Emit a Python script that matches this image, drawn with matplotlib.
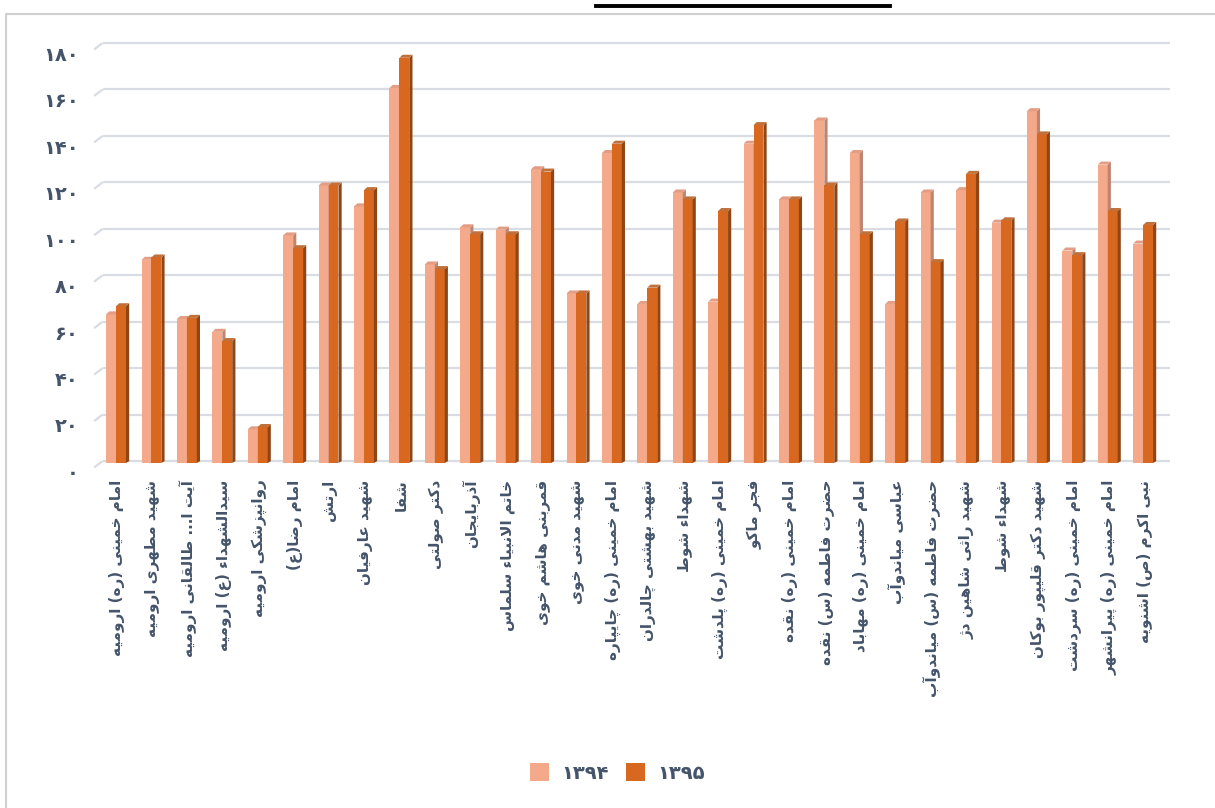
import matplotlib.pyplot as plt
from matplotlib.patches import Polygon, Rectangle, Patch
from matplotlib.lines import Line2D
import matplotlib.transforms as mtransforms
import numpy as np

# =============================================================================
# Data
# =============================================================================

hospitals = [
    'امام خمینی (ره) ارومیه', 'شهید مطهری ارومیه', 'آیت ا... طالقانی ارومیه',
    'سیدالشهداء (ع) ارومیه', 'روانپزشکی ارومیه', 'امام رضا(ع)', 'ارتش',
    'شهید عارفیان', 'شفا', 'دکتر صولتی', 'آذربایجان', 'خاتم الانبیاء سلماس',
    'قمربنی هاشم خوی', 'شهید مدنی خوی', 'امام خمینی (ره) چایپاره',
    'شهید بهشتی چالدران', 'شهداء شوط', 'امام خمینی (ره) پلدشت', 'فجر ماکو',
    'امام خمینی (ره) نقده', 'حضرت فاطمه (س) نقده', 'امام خمینی (ره) مهاباد',
    'عباسی میاندوآب', 'حضرت فاطمه (س) میاندوآب', 'شهید راثی شاهین دژ',
    'شهداء شوط', 'شهید دکتر قلیپور بوکان', 'امام خمینی (ره) سردشت',
    'امام خمینی (ره) پیرانشهر', 'نبی اکرم (ص) اشنویه',
]

values_1394 = [64, 87.5, 62, 56.5, 14.5, 98, 119.5, 110.5, 161.5, 85.5,
               101.5, 100.5, 126.5, 73, 133.5, 68.5, 116.5, 69.5, 137.5, 113.5,
               147.5, 133.5, 68.5, 116.5, 117.5, 103.5, 151.5, 91.5, 128.5, 94.5]
values_1395 = [67.5, 88.5, 62.5, 52.5, 15.5, 92.5, 119.5, 117.5, 174.5, 83.5,
               98.5, 98.5, 125.5, 73, 137.5, 75.5, 113.5, 108.5, 145.5, 113.5,
               119.5, 98.5, 104, 86.5, 124.5, 104.5, 141.5, 89.5, 108.5, 102.5]

series_names = ['۱۳۹۴', '۱۳۹۵']
y_ticks = [0, 20, 40, 60, 80, 100, 120, 140, 160, 180]
fa_digits = '۰۱۲۳۴۵۶۷۸۹'

# =============================================================================
# Simple Persian shaping (matplotlib has no bidi / joining support)
# =============================================================================

# letter: (isolated, final, initial, medial)
FORMS = {
    'ء': ('\uFE80', None, None, None),
    'آ': ('\uFE81', '\uFE82', None, None),
    'أ': ('\uFE83', '\uFE84', None, None),
    'ؤ': ('\uFE85', '\uFE86', None, None),
    'إ': ('\uFE87', '\uFE88', None, None),
    'ئ': ('\uFE89', '\uFE8A', '\uFE8B', '\uFE8C'),
    'ا': ('\uFE8D', '\uFE8E', None, None),
    'ب': ('\uFE8F', '\uFE90', '\uFE91', '\uFE92'),
    'ة': ('\uFE93', '\uFE94', None, None),
    'ت': ('\uFE95', '\uFE96', '\uFE97', '\uFE98'),
    'ث': ('\uFE99', '\uFE9A', '\uFE9B', '\uFE9C'),
    'ج': ('\uFE9D', '\uFE9E', '\uFE9F', '\uFEA0'),
    'ح': ('\uFEA1', '\uFEA2', '\uFEA3', '\uFEA4'),
    'خ': ('\uFEA5', '\uFEA6', '\uFEA7', '\uFEA8'),
    'د': ('\uFEA9', '\uFEAA', None, None),
    'ذ': ('\uFEAB', '\uFEAC', None, None),
    'ر': ('\uFEAD', '\uFEAE', None, None),
    'ز': ('\uFEAF', '\uFEB0', None, None),
    'س': ('\uFEB1', '\uFEB2', '\uFEB3', '\uFEB4'),
    'ش': ('\uFEB5', '\uFEB6', '\uFEB7', '\uFEB8'),
    'ص': ('\uFEB9', '\uFEBA', '\uFEBB', '\uFEBC'),
    'ض': ('\uFEBD', '\uFEBE', '\uFEBF', '\uFEC0'),
    'ط': ('\uFEC1', '\uFEC2', '\uFEC3', '\uFEC4'),
    'ظ': ('\uFEC5', '\uFEC6', '\uFEC7', '\uFEC8'),
    'ع': ('\uFEC9', '\uFECA', '\uFECB', '\uFECC'),
    'غ': ('\uFECD', '\uFECE', '\uFECF', '\uFED0'),
    'ف': ('\uFED1', '\uFED2', '\uFED3', '\uFED4'),
    'ق': ('\uFED5', '\uFED6', '\uFED7', '\uFED8'),
    'ل': ('\uFEDD', '\uFEDE', '\uFEDF', '\uFEE0'),
    'م': ('\uFEE1', '\uFEE2', '\uFEE3', '\uFEE4'),
    'ن': ('\uFEE5', '\uFEE6', '\uFEE7', '\uFEE8'),
    'ه': ('\uFEE9', '\uFEEA', '\uFEEB', '\uFEEC'),
    'و': ('\uFEED', '\uFEEE', None, None),
    'پ': ('\uFB56', '\uFB57', '\uFB58', '\uFB59'),
    'چ': ('\uFB7A', '\uFB7B', '\uFB7C', '\uFB7D'),
    'ژ': ('\uFB8A', '\uFB8B', None, None),
    'ک': ('\uFB8E', '\uFB8F', '\uFB90', '\uFB91'),
    'گ': ('\uFB92', '\uFB93', '\uFB94', '\uFB95'),
    'ی': ('\uFBFC', '\uFBFD', '\uFBFE', '\uFBFF'),
}
LAM_ALEF = {'ا': ('\uFEFB', '\uFEFC'), 'آ': ('\uFEF5', '\uFEF6')}


def joins_forward(ch):
    return ch in FORMS and FORMS[ch][2] is not None


def joins_back(ch):
    return ch in FORMS and FORMS[ch][1] is not None


def shape(text):
    out = []
    i = 0
    n = len(text)
    while i < n:
        ch = text[i]
        if ch not in FORMS:
            out.append(ch)
            i += 1
            continue
        prev_ok = i > 0 and joins_forward(text[i - 1]) and joins_back(ch)
        if ch == 'ل' and i + 1 < n and text[i + 1] in LAM_ALEF:
            out.append(LAM_ALEF[text[i + 1]][1 if prev_ok else 0])
            i += 2
            continue
        next_ok = i + 1 < n and joins_forward(ch) and joins_back(text[i + 1])
        iso, fin, ini, med = FORMS[ch]
        if prev_ok and next_ok:
            out.append(med)
        elif prev_ok:
            out.append(fin)
        elif next_ok:
            out.append(ini)
        else:
            out.append(iso)
        i += 1
    # visual order: reverse, mirror brackets
    vis = ''.join(out)[::-1]
    return vis.translate(str.maketrans('()', ')('))


def fa_num(v):
    return ''.join(fa_digits[int(d)] for d in str(v))

# =============================================================================
# Plot
# =============================================================================

text_color = '#44546A'
face_colors = ['#F4A98A', '#D8681F']
side_colors = ['#BE8470', '#8F4616']
top_colors = ['#E39D84', '#C0703A']
grid_color = '#D9DCE3'

fig = plt.figure(figsize=(12.15, 8.08), dpi=100)
ax = fig.add_axes([98 / 1215, (808 - 463) / 808, (1164 - 98) / 1215, 418 / 808])

x = np.arange(len(hospitals))
width = 0.28
offsets = [-0.18, 0.10]
dx, dy = 0.09, 1.3

for k, vals in enumerate([values_1394, values_1395]):
    xs = x + offsets[k]
    ax.bar(xs, vals, width=width, color=face_colors[k], edgecolor='none', zorder=3 + k)
    for xc, v in zip(xs, vals):
        left, right = xc - width / 2, xc + width / 2
        side = Polygon([(right, 0), (right + dx, dy * 0.6), (right + dx, v + dy), (right, v)],
                       closed=True, facecolor=side_colors[k], edgecolor='none', zorder=3 + k)
        top = Polygon([(left, v), (left + dx, v + dy), (right + dx, v + dy), (right, v)],
                      closed=True, facecolor=top_colors[k], edgecolor='none', zorder=3 + k)
        ax.add_patch(side)
        ax.add_patch(top)

# back wall gridlines with a small slanted start
grid_off = mtransforms.offset_copy(ax.transData, fig=fig, x=0, y=2, units='dots')
for t in y_ticks:
    ax.plot([-0.42, 29.72], [t, t], color=grid_color, lw=1.6, transform=grid_off,
            zorder=1, solid_capstyle='butt', clip_on=False)
    ax.plot([-0.66, -0.42], [t - 2.8, t], color=grid_color, lw=1.6, transform=grid_off,
            zorder=1, solid_capstyle='butt', clip_on=False)

ax.set_xlim(-0.55, 29.55)
ax.set_ylim(0, 180)
ax.set_yticks(y_ticks)
ax.set_yticklabels([fa_num(t) for t in y_ticks], fontsize=14, fontweight='bold',
                   color=text_color)
ax.set_xticks(x)
ax.set_xticklabels([shape(h) for h in hospitals], rotation=90, fontsize=11,
                   fontweight='bold', color=text_color, ha='center', va='top')
ax.tick_params(axis='both', length=0)
ax.tick_params(axis='x', pad=12)
ax.tick_params(axis='y', pad=14)
for lab in ax.get_yticklabels():
    lab.set_transform(lab.get_transform() +
                      mtransforms.ScaledTranslation(0, -6 / 72, fig.dpi_scale_trans))
for s in ax.spines.values():
    s.set_visible(False)

handles = [Patch(facecolor=face_colors[0]), Patch(facecolor=face_colors[1])]
fig.legend(handles, series_names, loc='center', bbox_to_anchor=(0.508, (808 - 773) / 808),
           ncol=2, frameon=False, handlelength=1.0, handleheight=1.0, handletextpad=0.6,
           columnspacing=0.9, prop={'size': 14, 'weight': 'bold'}, labelcolor=text_color)

# frame of the embedded chart and cut-off underline above it
fig.add_artist(Rectangle((6 / 1215, -0.01), 1.02, (808 - 14) / 808 + 0.01,
                         transform=fig.transFigure, fill=False, edgecolor='#D0D0D0', lw=1.5))
fig.add_artist(Line2D([596 / 1215, 890 / 1215], [1 - 6 / 808, 1 - 6 / 808],
                      transform=fig.transFigure, color='black', lw=2.8))

fig.savefig('out.png', dpi=100)
